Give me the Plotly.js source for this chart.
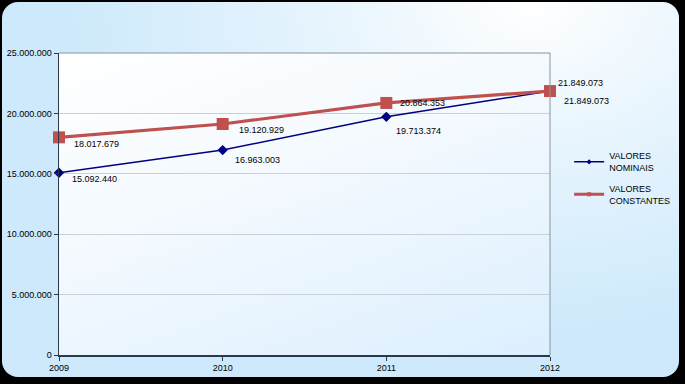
<!DOCTYPE html>
<html><head><meta charset="utf-8">
<script src="https://cdn.plot.ly/plotly-3.0.1.min.js"></script>
<style>
html,body{margin:0;padding:0;background:#000;width:685px;height:384px;overflow:hidden}
#frame{position:absolute;left:2px;top:2px;width:677px;height:375px;border-radius:16px;
background:radial-gradient(ellipse 70% 90% at 78% 0%, #ffffff 0%, #e6f4fd 45%, #cde9fb 100%);}
#plotbg{position:absolute;left:59px;top:53px;width:491px;height:302px;
background:linear-gradient(160deg,#ffffff 0%,#f3f9fe 45%,#dcefff 100%);}
#chart{position:absolute;left:0;top:0;width:685px;height:384px}
</style></head>
<body>
<div id="frame"></div><div id="plotbg"></div><div id="chart"></div>
<script>
var years = [2009, 2010, 2011, 2012];
var nominais = [15092440, 16963003, 19713374, 21849073];
var constantes = [18017679, 19120929, 20864353, 21849073];
var yTicks = [0, 5000000, 10000000, 15000000, 20000000, 25000000];
var seriesNames = ['VALORES<br>NOMINAIS', 'VALORES<br>CONSTANTES'];

function fmt(v){ return String(v).replace(/\B(?=(\d{3})+(?!\d))/g, '.'); }

var font = {family:'Liberation Sans, Arial, sans-serif', size:9, color:'#000'};
var navy = '#000080', red = '#c0504d';

var tNom = {
  x: years, y: nominais, mode:'lines+markers', showlegend:false,
  line:{color:navy, width:1.5},
  marker:{symbol:'diamond', size:8, color:navy},
  cliponaxis:false, hoverinfo:'skip'
};
var tCon = {
  x: years, y: constantes, mode:'lines+markers', showlegend:false,
  line:{color:red, width:3.2},
  marker:{symbol:'square', size:12, color:red},
  cliponaxis:false, hoverinfo:'skip'
};
// legend entries (small markers like the original legend)
var lNom = {x:[null], y:[null], name:seriesNames[0], mode:'lines+markers', legendgroup:'a',
  line:{color:navy, width:1.5}, marker:{symbol:'diamond', size:4, color:navy}};
var lCon = {x:[null], y:[null], name:seriesNames[1], mode:'lines+markers', legendgroup:'b',
  line:{color:red, width:3}, marker:{symbol:'square', size:4, color:red}};

// label offsets (pixels) per point
var nomShift = [[11,-6],[10,-10],[8,-14],[12,-10]];
var conShift = [[13,-7],[14,-6],[12,0],[6,8]];
var annotations = [];
years.forEach(function(yr,i){
  annotations.push({x:yr, y:nominais[i], xref:'x', yref:'y', text:fmt(nominais[i]), showarrow:false,
    xanchor:'left', yanchor:'middle', xshift:nomShift[i][0], yshift:nomShift[i][1], font:font});
  annotations.push({x:yr, y:constantes[i], xref:'x', yref:'y', text:fmt(constantes[i]), showarrow:false,
    xanchor:'left', yanchor:'middle', xshift:conShift[i][0], yshift:conShift[i][1], font:font});
});

var layout = {
  width:685, height:384,
  margin:{l:59, r:135, t:53, b:29, autoexpand:false},
  paper_bgcolor:'rgba(0,0,0,0)', plot_bgcolor:'rgba(0,0,0,0)',
  separators:',.',
  font: font,
  showlegend:true,
  legend:{x:1.039, y:0.70, xanchor:'left', yanchor:'top', bgcolor:'rgba(0,0,0,0)',
    font:{family:'Liberation Sans, Arial, sans-serif', size:9, color:'#000'},
    traceorder:'grouped', tracegroupgap:6, itemwidth:30},
  xaxis:{range:[2009,2012], tickvals:years, ticktext:years.map(String),
    showgrid:false, zeroline:false, showline:true, linecolor:'#2b3a4a', linewidth:1.5,
    ticks:'outside', ticklen:4, tickcolor:'#2b3a4a', tickfont:font, fixedrange:true},
  yaxis:{range:[0,25000000], tickvals:yTicks, ticktext:yTicks.map(fmt),
    showgrid:true, gridcolor:'#c8d0d8', gridwidth:1, zeroline:false,
    showline:true, linecolor:'#2b3a4a', linewidth:1.5,
    ticks:'outside', ticklen:4, tickcolor:'#2b3a4a', tickfont:font, fixedrange:true},
  annotations: annotations,
  shapes:[
    {type:'line', xref:'paper', yref:'paper', x0:0, x1:1, y0:1, y1:1, line:{color:'#8a949e', width:1}},
    {type:'line', xref:'paper', yref:'paper', x0:1, x1:1, y0:0, y1:1, line:{color:'#8a949e', width:1}}
  ]
};

Plotly.newPlot('chart', [tNom, tCon, lNom, lCon], layout, {staticPlot:true, displayModeBar:false});
</script>
</body></html>
